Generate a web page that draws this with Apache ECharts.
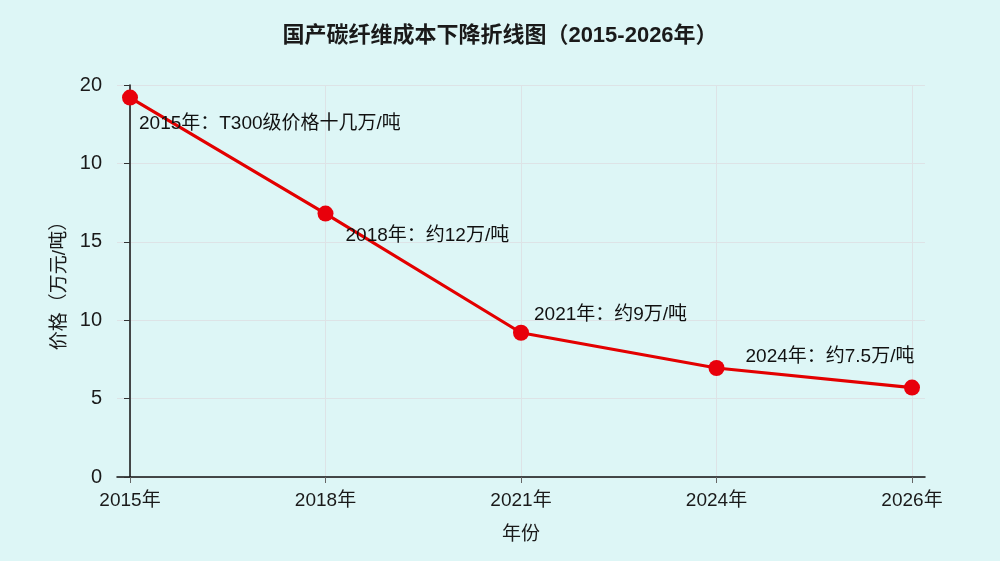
<!DOCTYPE html>
<html>
<head>
<meta charset="utf-8">
<script src="https://cdn.jsdelivr.net/npm/echarts@6/dist/echarts.min.js"></script>
<style>
html,body{margin:0;padding:0;background:#ddf6f6;}
#main{width:1000px;height:561px;}
</style>
</head>
<body>
<div id="main"></div>
<script>
// 数据
var years = ['2015年', '2018年', '2021年', '2024年', '2026年'];
var prices = [24.2, 16.8, 9.2, 6.95, 5.7];
var pointLabels = ['2015年：T300级价格十几万/吨', '2018年：约12万/吨', '2021年：约9万/吨', '2024年：约7.5万/吨', ''];
var yTickLabels = ['0', '5', '10', '15', '10', '20'];
var labelOffsets = [[1, 26], [12, 22], [5, -18], [21, -11], [0, 0]];

var myChart = echarts.init(document.getElementById('main'));
var font = '"Liberation Sans", "Noto Sans CJK SC", sans-serif';

var seriesData = [];
for (var i = 0; i < prices.length; i++) {
    seriesData.push({
        value: [i, prices[i]],
        label: {
            show: pointLabels[i] !== '',
            formatter: pointLabels[i],
            position: 'right',
            distance: 0,
            offset: labelOffsets[i]
        }
    });
}
var xTicks = [0, 1, 2, 3, 4];

var option = {
    backgroundColor: '#ddf6f6',
    textStyle: { fontFamily: font },
    title: {
        text: '国产碳纤维成本下降折线图（2015-2026年）',
        left: 'center',
        top: 20,
        textStyle: { fontSize: 22, fontWeight: 'bold', color: '#1a1a1a', fontFamily: font }
    },
    grid: { left: 117, right: 75, top: 85, bottom: 84 },
    xAxis: {
        type: 'value',
        min: -0.0665,
        max: 4.0665,
        name: '年份',
        nameLocation: 'middle',
        nameGap: 48,
        nameTextStyle: { fontSize: 19, color: '#1a1a1a' },
        axisLine: { show: true, lineStyle: { color: '#111', width: 1.5 } },
        axisTick: { show: true, customValues: xTicks, length: 6, lineStyle: { color: '#666' } },
        axisLabel: {
            customValues: xTicks,
            fontSize: 19,
            color: '#1a1a1a',
            margin: 14,
            formatter: function (v) { return years[Math.round(v)]; }
        },
        splitLine: { show: true, lineStyle: { color: '#dde3e6', width: 1 } }
    },
    yAxis: {
        type: 'value',
        min: 0,
        max: 25,
        interval: 5,
        name: '价格（万元/吨）',
        nameLocation: 'middle',
        nameGap: 45,
        nameTextStyle: { fontSize: 19, color: '#1a1a1a' },
        axisLine: { show: true, lineStyle: { color: '#111', width: 1.5 } },
        axisTick: { show: true, length: 6, lineStyle: { color: '#333' } },
        axisLabel: {
            fontSize: 20,
            color: '#1a1a1a',
            margin: 15,
            formatter: function (v) { return yTickLabels[Math.round(v / 5)]; }
        },
        splitLine: { show: true, lineStyle: { color: '#dde3e6', width: 1 } }
    },
    series: [{
        type: 'line',
        data: seriesData,
        symbol: 'circle',
        symbolSize: 16,
        lineStyle: { color: '#e30000', width: 3.2 },
        itemStyle: { color: '#e8000b' },
        label: { color: '#111', fontSize: 19, fontFamily: font },
        animation: false
    }]
};

myChart.setOption(option);
window.onresize = myChart.resize;
</script>
</body>
</html>
